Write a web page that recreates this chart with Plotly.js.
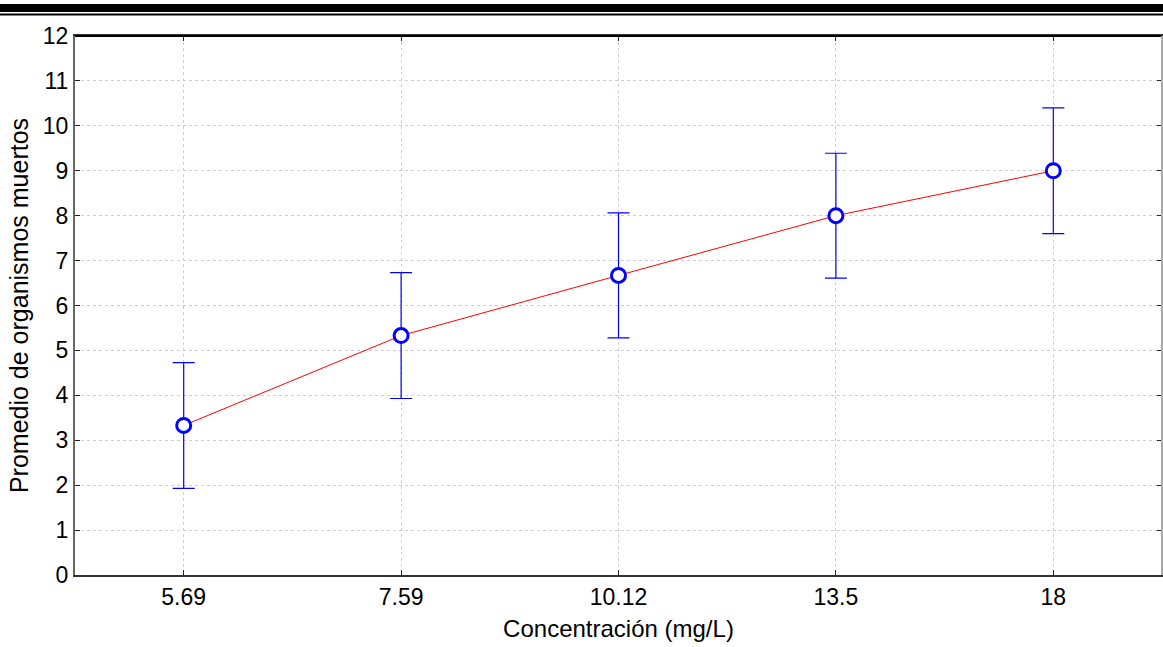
<!DOCTYPE html>
<html>
<head>
<meta charset="utf-8">
<script src="https://cdn.plot.ly/plotly-3.0.1.min.js"></script>
<style>
html,body{margin:0;padding:0;background:#fff;}
#chart{width:1163px;height:647px;}
</style>
</head>
<body>
<div id="chart"></div>
<script>
const categories = ["5.69", "7.59", "10.12", "13.5", "18"];
const meanValues = [3.33, 5.33, 6.67, 8.0, 9.0];
const errorValues = [1.4, 1.4, 1.39, 1.39, 1.4];
const yTicks = [0,1,2,3,4,5,6,7,8,9,10,11,12];

const W = 1163, H = 647;
const M = {l: 75, r: 1, t: 36, b: 72};
const pw = W - M.l - M.r, ph = H - M.t - M.b;
const px2y = p => (H - M.b - p) / ph;
const xl = -M.l / pw, xr = 1 + M.r / pw;

const trace = {
  x: categories,
  y: meanValues,
  type: 'scatter',
  mode: 'lines+markers',
  line: {color: '#ff0000', width: 1},
  marker: {symbol: 'circle', size: 14, color: '#ffffff', line: {color: '#0000ff', width: 3}},
  error_y: {type: 'data', array: errorValues, visible: true, color: '#0000ff', thickness: 1.2, width: 11},
  hoverinfo: 'skip'
};

const layout = {
  width: W, height: H,
  margin: M,
  paper_bgcolor: '#ffffff',
  plot_bgcolor: '#ffffff',
  showlegend: false,
  font: {family: 'Arial, "Liberation Sans", sans-serif', color: '#000'},
  xaxis: {
    type: 'category',
    range: [-0.5, 4.5],
    showgrid: true, gridcolor: '#d4ccd4', griddash: 'dot', gridwidth: 1,
    showline: true, linecolor: '#333', linewidth: 2,
    ticks: 'inside', ticklen: 5, tickcolor: '#222', mirror: 'ticks',
    tickfont: {size: 23, color: '#000'},
    zeroline: false,
    title: {text: 'Concentración (mg/L)', font: {size: 24, color: '#000'}, standoff: 12}
  },
  yaxis: {
    range: [0, 12],
    tickvals: yTicks,
    showgrid: true, gridcolor: '#d4ccd4', griddash: 'dot', gridwidth: 1,
    showline: true, linecolor: '#666', linewidth: 2,
    ticks: 'inside', ticklen: 5, tickcolor: '#222', mirror: 'ticks',
    tickfont: {size: 23, color: '#000'},
    zeroline: false,
    title: {text: 'Promedio de organismos muertos', font: {size: 25, color: '#000'}, standoff: 7}
  },
  shapes: [
    {type: 'rect', xref: 'paper', yref: 'paper', x0: xl, x1: xr, y0: px2y(12), y1: px2y(4), fillcolor: '#000', line: {width: 0}, layer: 'above'},
    {type: 'rect', xref: 'paper', yref: 'paper', x0: xl, x1: xr, y0: px2y(15.5), y1: px2y(13.5), fillcolor: '#000', line: {width: 0}, layer: 'above'},
    {type: 'line', xref: 'paper', yref: 'paper', x0: 0, x1: 1, y0: 1, y1: 1, line: {color: '#000', width: 2}},
    {type: 'line', xref: 'paper', yref: 'paper', x0: 1, x1: 1, y0: 0, y1: 1, line: {color: '#aaa', width: 2}}
  ]
};

Plotly.newPlot('chart', [trace], layout, {displayModeBar: false, staticPlot: true});
</script>
</body>
</html>
